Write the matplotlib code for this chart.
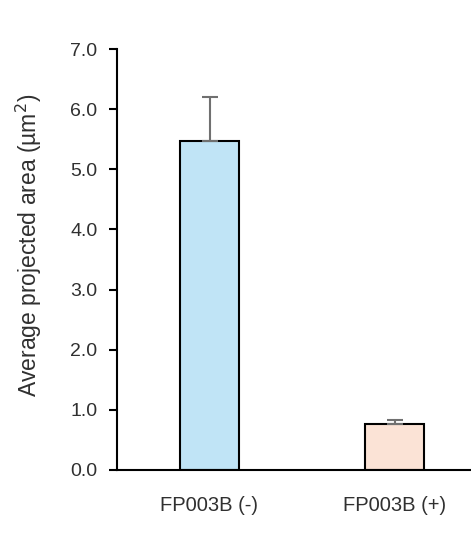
import matplotlib
matplotlib.use("Agg")
import matplotlib.pyplot as plt

categories = ["FP003B (-)", "FP003B (+)"]
values = [5.47, 0.77]
errors = [0.73, 0.06]
colors = ["#C0E4F6", "#FBE3D6"]
yticks = [0, 1, 2, 3, 4, 5, 6, 7]

plt.rcParams['font.family'] = ['Liberation Sans', 'DejaVu Sans']

W, H = 471, 533
fig = plt.figure(figsize=(W / 100, H / 100), dpi=100)
left = 117 / W
bottom = (H - 470) / H
height = (470 - 49) / H
width = (487 - 117) / W
ax = fig.add_axes([left, bottom, width, height])

x = list(range(len(categories)))
ax.bar(x, values, width=0.32, color=colors, edgecolor="black", linewidth=1.5, zorder=2)
ax.errorbar(x, values, yerr=[[0] * len(errors), errors], fmt="none",
            ecolor="#707070", elinewidth=1.5, capsize=6, capthick=1.5, zorder=3)

ax.set_xlim(-0.5, 1.5)
ax.set_ylim(0, 7)
ax.set_yticks(yticks)
ax.set_yticklabels([f"{v:.1f}" for v in yticks], fontsize=14, color="#303030")
ax.set_xticks(x)
ax.set_xticklabels(categories, fontsize=14.5, color="#303030")
ax.tick_params(axis="x", length=0, pad=19)
ax.tick_params(axis="y", direction="out", length=6, width=1.5, pad=8)
for s in ["top", "right"]:
    ax.spines[s].set_visible(False)
ax.spines["left"].set_linewidth(1.5)
ax.spines["bottom"].set_linewidth(1.5)
ax.set_ylabel("Average projected area (µm$^2$)", fontsize=16.5, color="#303030",
              va="center")
ax.yaxis.set_label_coords(-(117 - 29) / (487 - 117), (470 - 245) / (470 - 49))

fig.savefig("out.png", dpi=100)
